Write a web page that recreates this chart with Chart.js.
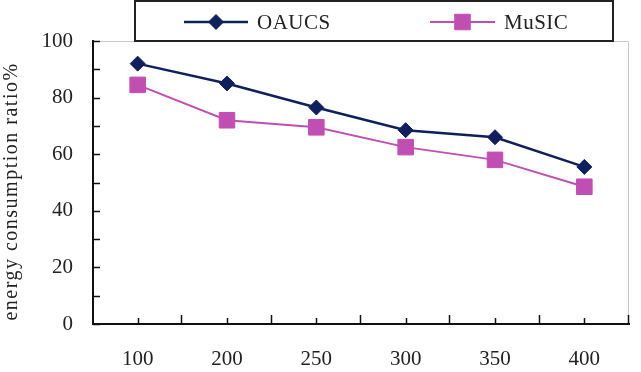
<!DOCTYPE html>
<html lang="en">
<head>
<meta charset="UTF-8" />
<title>energy consumption ratio</title>
<script src="https://cdn.jsdelivr.net/npm/chart.js@4.4.1/dist/chart.umd.min.js"></script>
<style>
  html, body { margin: 0; padding: 0; background: #fff; }
  .wrap { width: 641px; height: 372px; }
</style>
</head>
<body>
<div class="wrap"><canvas id="chart" width="641" height="372"></canvas></div>
<script>
// data
const nodes = ['100', '200', '250', '300', '350', '400'];
const oaucs = [92, 85, 76.5, 68.5, 66, 55.5];
const music = [84.5, 72, 69.5, 62.5, 58, 48.5];
const yMax = 100;
const yStep = 10;      // small tick every 10, label every 20
const yLabelStep = 20;
const yTitle = 'energy consumption ratio%';

const NAVY = '#10205e';
const PINK = '#c14fb3';
const INK = '#222';
const SERIF = '"Liberation Serif", "Times New Roman", serif';

// inner ticks, grey frame, rotated axis title, boxed legend
const frame = {
  id: 'frame',
  afterDraw(chart) {
    const { ctx, chartArea: a, scales: { x, y } } = chart;
    ctx.save();
    ctx.strokeStyle = '#c8c8c8';
    ctx.lineWidth = 1;
    ctx.beginPath();
    ctx.moveTo(a.left, a.top + 0.5);
    ctx.lineTo(a.right - 0.5, a.top + 0.5);
    ctx.lineTo(a.right - 0.5, a.bottom);
    ctx.stroke();

    ctx.strokeStyle = '#111';
    ctx.lineWidth = 1.5;
    y.ticks.forEach(t => {
      const py = Math.round(y.getPixelForValue(t.value)) + 0.5;
      ctx.beginPath();
      ctx.moveTo(a.left, py);
      ctx.lineTo(a.left + 7, py);
      ctx.stroke();
    });
    const n = nodes.length;
    const w = (a.right - a.left) / n;
    for (let i = 0; i < n; i++) {
      const px = Math.round(x.getPixelForValue(i)) + 0.5;
      ctx.beginPath();
      ctx.moveTo(px, a.bottom);
      ctx.lineTo(px, a.bottom - 6);
      ctx.stroke();
    }
    for (let i = 1; i <= n; i++) {
      const px = Math.round(a.left + i * w) - 0.5;
      ctx.beginPath();
      ctx.moveTo(px, a.bottom);
      ctx.lineTo(px, a.bottom - 9);
      ctx.stroke();
    }

    // y title, widely spaced like the original
    ctx.save();
    ctx.translate(12, (a.top + a.bottom) / 2 + 9);
    ctx.rotate(-Math.PI / 2);
    ctx.fillStyle = INK;
    ctx.font = '20px ' + SERIF;
    ctx.letterSpacing = '1.5px';
    ctx.textAlign = 'center';
    ctx.textBaseline = 'middle';
    ctx.fillText(yTitle, 0, 0);
    ctx.restore();

    // legend box
    ctx.strokeStyle = '#222';
    ctx.lineWidth = 2;
    ctx.strokeRect(135, 1, 478, 40);
    const items = [
      { label: 'OAUCS', color: NAVY, style: 'rectRot', r: 7.5, x0: 184, x1: 248, lw: 2.5 },
      { label: 'MuSIC', color: PINK, style: 'rect', r: 11, x0: 430, x1: 495, lw: 2 }
    ];
    const cy = 22;
    items.forEach(it => {
      ctx.strokeStyle = it.color;
      ctx.lineWidth = it.lw;
      ctx.beginPath();
      ctx.moveTo(it.x0, cy);
      ctx.lineTo(it.x1, cy);
      ctx.stroke();
      ctx.fillStyle = it.color;
      ctx.lineWidth = 1;
      Chart.helpers.drawPoint(ctx, { pointStyle: it.style, radius: it.r, borderWidth: 1 }, (it.x0 + it.x1) / 2, cy);
      ctx.fillStyle = INK;
      ctx.font = '21px ' + SERIF;
      ctx.letterSpacing = '0.5px';
      ctx.textAlign = 'left';
      ctx.textBaseline = 'middle';
      ctx.fillText(it.label, it.x1 + 9, cy + 1);
    });
    ctx.restore();
  }
};

new Chart(document.getElementById('chart'), {
  type: 'line',
  data: {
    labels: nodes,
    datasets: [
      {
        label: 'OAUCS',
        data: oaucs,
        borderColor: NAVY,
        backgroundColor: NAVY,
        borderWidth: 2.5,
        pointStyle: 'rectRot',
        pointRadius: 7.5,
        pointBorderWidth: 1,
        tension: 0
      },
      {
        label: 'MuSIC',
        data: music,
        borderColor: PINK,
        backgroundColor: PINK,
        borderWidth: 2,
        pointStyle: 'rect',
        pointRadius: 11,
        pointBorderWidth: 1,
        tension: 0
      }
    ]
  },
  options: {
    responsive: false,
    animation: false,
    layout: { padding: { top: 41, right: 4, left: 0, bottom: 0 } },
    plugins: {
      legend: { display: false },
      tooltip: { enabled: false }
    },
    scales: {
      x: {
        offset: true,
        grid: { display: true, drawOnChartArea: false, drawTicks: false },
        border: { color: '#111', width: 2 },
        ticks: { color: INK, font: { family: SERIF, size: 21 }, padding: 23, maxRotation: 0 },
        afterFit(scale) { scale.height = 48; }
      },
      y: {
        min: 0,
        max: yMax,
        grid: { display: true, drawOnChartArea: false, drawTicks: false },
        border: { color: '#111', width: 2 },
        ticks: {
          stepSize: yStep,
          color: INK,
          font: { family: SERIF, size: 21 },
          padding: 20,
          callback: v => (v % yLabelStep === 0 ? v : '')
        },
        afterFit(scale) { scale.width = 93; }
      }
    }
  },
  plugins: [frame]
});
</script>
</body>
</html>
